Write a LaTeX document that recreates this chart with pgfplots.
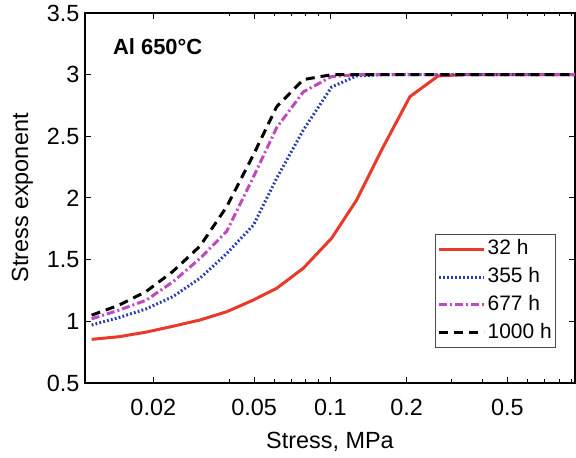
\documentclass[border=0pt]{standalone}
\usepackage{fontspec}
\setmainfont{Liberation Sans}
\usepackage{pgfplots}
\usepackage{pgfplotstable}
\pgfplotsset{compat=1.18}
\definecolor{cred}{RGB}{232,57,42}
\definecolor{cblue}{RGB}{40,60,175}
\definecolor{cmag}{RGB}{190,75,190}

\pgfplotstableread{
x      r      b      m      k
0.01142 0.854 0.970 1.020 1.050
0.0146  0.875 1.030 1.090 1.130
0.0187  0.912 1.100 1.170 1.240
0.0239  0.960 1.200 1.320 1.405
0.0306  1.011 1.350 1.510 1.610
0.0390  1.078 1.550 1.730 1.930
0.0497  1.173 1.780 2.170 2.350
0.0614  1.268 2.160 2.570 2.740
0.0782  1.430 2.550 2.860 2.960
0.1012  1.674 2.900 2.985 3.000
0.1271  1.984 2.990 3.000 3.000
0.1610  2.406 3.000 3.000 3.000
0.2063  2.822 3.000 3.000 3.000
0.2668  2.990 3.000 3.000 3.000
0.340   3.000 3.000 3.000 3.000
0.433   3.000 3.000 3.000 3.000
0.553   3.000 3.000 3.000 3.000
0.704   3.000 3.000 3.000 3.000
0.898   3.000 3.000 3.000 3.000
0.925   3.000 3.000 3.000 3.000
}\data

\begin{document}
\begin{tikzpicture}
\useasboundingbox (0,0) rectangle (576bp,458bp);
\begin{axis}[
  at={(85bp,75bp)}, anchor=south west,
  scale only axis, width=490bp, height=370bp,
  xmode=log, xmin=0.01075, xmax=0.925,
  ymin=0.5, ymax=3.5,
  ytick={0.5,1,1.5,2,2.5,3,3.5},
  yticklabels={0.5,1,1.5,2,2.5,3,3.5},
  xtick={0.02,0.05,0.1,0.2,0.5},
  xticklabels={0.02,0.05,0.1,0.2,0.5},
  minor xtick={0.04,0.06,0.07,0.08,0.09,0.3,0.4,0.6,0.7,0.8,0.9},
  tick align=inside,
  major tick length=6bp, minor tick length=3.5bp,
  every tick/.style={black, line width=1bp},
  axis line style={line width=1.2bp},
  tick label style={font=\fontsize{23.5}{27}\selectfont},
  xticklabel style={yshift=-13bp},
  yticklabel style={xshift=-2bp},
  label style={font=\fontsize{23.5}{27}\selectfont},
  xlabel={Stress, MPa}, ylabel={Stress exponent},
  xlabel style={at={(axis description cs:0.5,-0.158)}, anchor=center},
  ylabel style={at={(axis description cs:-0.128,0.5)}, anchor=center},
  legend style={at={(0.961,0.095)}, anchor=south east, draw=black!70,
    font=\fontsize{21}{25}\selectfont, inner xsep=2bp, inner ysep=1bp, row sep=0bp,
    nodes={inner ysep=4.4bp, inner xsep=2bp, text height=15bp, text depth=4bp}},
  legend cell align=left,
  legend image code/.code={\draw[#1] (0bp,0bp) -- (45bp,0bp);},
]
\addplot[cred, line width=3bp] table[x=x, y=r] {\data};
\addlegendentry{32 h}
\addplot[cblue, line width=3bp, dash pattern=on 1.8bp off 2.2bp] table[x=x, y=b] {\data};
\addlegendentry{355 h}
\addplot[cmag, line width=3bp, dash pattern=on 8bp off 3bp on 2bp off 3bp] table[x=x, y=m] {\data};
\addlegendentry{677 h}
\addplot[black, line width=3bp, dash pattern=on 9bp off 6bp] table[x=x, y=k] {\data};
\addlegendentry{1000 h}
\node[anchor=west, inner sep=0pt, font=\fontsize{22}{26}\selectfont\bfseries] at (rel axis cs:0.057,0.909) {Al 650°C};
\end{axis}
\end{tikzpicture}
\end{document}
